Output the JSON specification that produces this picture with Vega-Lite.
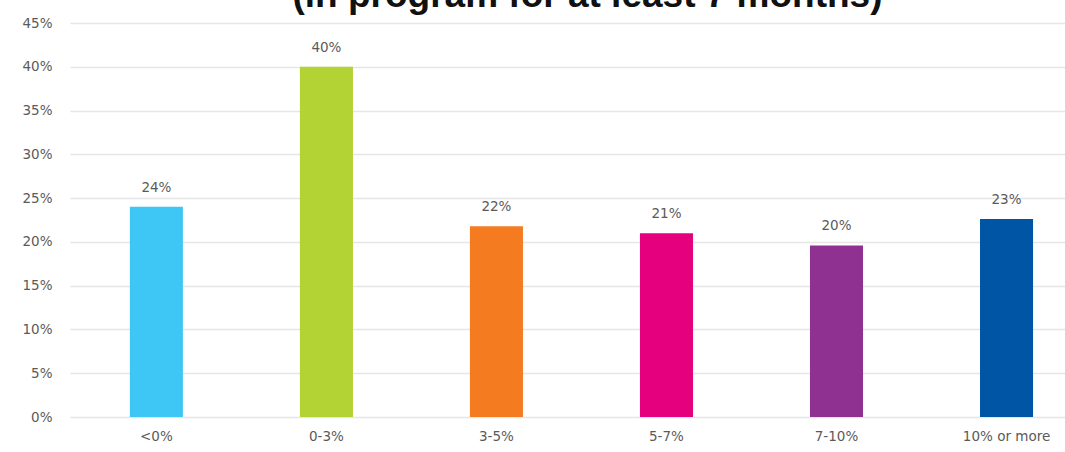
{
  "$schema": "https://vega.github.io/schema/vega-lite/v6.json",
  "autosize": {"type": "none"},
  "padding": {"left": 70, "top": 23, "right": 0, "bottom": 35},
  "width": 995,
  "height": 394,
  "background": "white",
  "title": {
    "text": "(in program for at least 7 months)",
    "font": "Liberation Sans",
    "fontSize": 37,
    "fontWeight": "bold",
    "color": "#111111",
    "baseline": "alphabetic",
    "anchor": "middle",
    "offset": 0,
    "dy": 28,
    "dx": 20
  },
  "config": {
    "view": {"stroke": null},
    "axis": {"labelFont": "DejaVu Sans", "labelFontSize": 13.5, "labelColor": "#5a5a5a"}
  },
  "data": {
    "values": [
      {"bucket": "<0%", "share": 0.24},
      {"bucket": "0-3%", "share": 0.40},
      {"bucket": "3-5%", "share": 0.218},
      {"bucket": "5-7%", "share": 0.21},
      {"bucket": "7-10%", "share": 0.196},
      {"bucket": "10% or more", "share": 0.226}
    ]
  },
  "encoding": {
    "x": {
      "field": "bucket",
      "type": "nominal",
      "sort": null,
      "scale": {"paddingInner": 0.688, "paddingOuter": 0.27, "align": 0.652},
      "axis": {"title": null, "labelAngle": 0, "ticks": false, "domain": false, "labelPadding": 12}
    },
    "y": {
      "field": "share",
      "type": "quantitative",
      "scale": {"domain": [0, 0.45]},
      "axis": {
        "title": null,
        "format": ".0%",
        "values": [0, 0.05, 0.1, 0.15, 0.2, 0.25, 0.3, 0.35, 0.4, 0.45],
        "ticks": false,
        "domain": false,
        "labelPadding": 18,
        "gridColor": "#e6e6e6",
        "gridWidth": 1.5
      }
    }
  },
  "layer": [
    {
      "mark": {"type": "bar"},
      "encoding": {
        "color": {
          "field": "bucket",
          "type": "nominal",
          "sort": null,
          "scale": {
            "domain": ["<0%", "0-3%", "3-5%", "5-7%", "7-10%", "10% or more"],
            "range": ["#3EC6F4", "#B3D234", "#F47B20", "#E5007D", "#8E3191", "#0055A4"]
          },
          "legend": null
        }
      }
    },
    {
      "mark": {"type": "text", "dy": -12, "baseline": "bottom", "font": "DejaVu Sans", "fontSize": 13.5, "color": "#5a5a5a"},
      "encoding": {
        "text": {"field": "share", "type": "quantitative", "format": ".0%"}
      }
    }
  ]
}
